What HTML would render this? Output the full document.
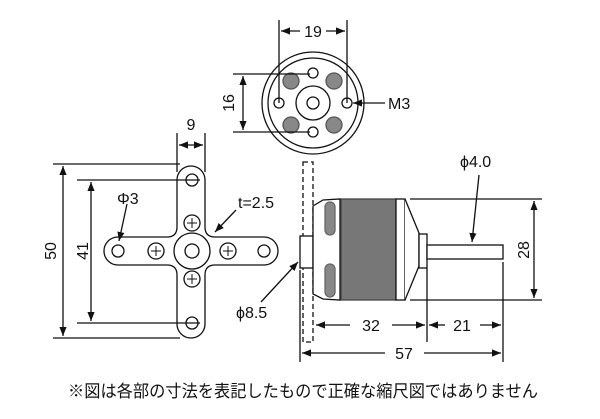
<!DOCTYPE html>
<html><head><meta charset="utf-8"><style>
html,body{margin:0;padding:0;background:#fff;}
svg{display:block;}
text{font-family:"Liberation Sans","Noto Sans CJK JP",sans-serif;fill:#111;}
</style></head><body>
<svg width="600" height="419" viewBox="0 0 600 419" xmlns="http://www.w3.org/2000/svg">
<defs>
<marker id="a" viewBox="0 0 10 10" refX="10" refY="5" markerWidth="9" markerHeight="9" orient="auto-start-reverse" markerUnits="userSpaceOnUse"><path d="M0,1 L10,5 L0,9 Z" fill="#111"/></marker>
</defs>
<g stroke="#111" stroke-width="1.3" fill="none">
<!-- top view -->
<circle cx="313" cy="103" r="51"/>
<circle cx="313" cy="103" r="45"/>
<circle cx="313" cy="103" r="17"/>
<circle cx="313" cy="103" r="6"/>
<circle cx="313" cy="73" r="5"/><circle cx="313" cy="132" r="5"/>
<circle cx="279" cy="103" r="5"/><circle cx="347" cy="103" r="5"/>
<g fill="#888" stroke="#555"><circle cx="291" cy="81" r="8"/><circle cx="334" cy="81" r="8"/><circle cx="291" cy="125" r="8"/><circle cx="334" cy="125" r="8"/></g>
<line x1="279" y1="20" x2="279" y2="103"/><line x1="347" y1="20" x2="347" y2="103"/>
<line x1="281" y1="31" x2="300" y2="31" marker-start="url(#a)"/><line x1="326" y1="31" x2="345" y2="31" marker-end="url(#a)"/>
<line x1="233" y1="74" x2="310" y2="74"/><line x1="233" y1="132" x2="310" y2="132"/>
<line x1="243" y1="76" x2="243" y2="130" marker-start="url(#a)" marker-end="url(#a)"/>
<line x1="385" y1="103" x2="353" y2="103" marker-end="url(#a)"/>
<!-- cross -->
<path d="M177,180 A14,14 0 0 1 205,180 L205,227 Q205,237 215,237 L264,237 A14,14 0 0 1 264,265 L215,265 Q205,265 205,275 L205,324 A14,14 0 0 1 177,324 L177,275 Q177,265 167,265 L118,265 A14,14 0 0 1 118,237 L167,237 Q177,237 177,227 Z"/>
<circle cx="192" cy="180" r="6"/><circle cx="192" cy="323" r="6"/><circle cx="118" cy="251" r="6"/><circle cx="264" cy="251" r="6"/>
<circle cx="192" cy="251" r="18"/><circle cx="192" cy="251" r="7"/>
<g><circle cx="192" cy="223" r="8"/><circle cx="192" cy="279" r="8"/><circle cx="156" cy="251" r="8"/><circle cx="228" cy="251" r="8"/></g>
<g stroke-width="1"><path d="M187,223h10M192,218v10M187,279h10M192,274v10M151,251h10M156,246v10M223,251h10M228,246v10"/></g>
<line x1="177" y1="133" x2="177" y2="172"/><line x1="205" y1="133" x2="205" y2="172"/>
<line x1="179" y1="145" x2="203" y2="145" marker-start="url(#a)" marker-end="url(#a)"/>
<line x1="53" y1="164" x2="180" y2="164"/><line x1="53" y1="338" x2="180" y2="338"/>
<line x1="63" y1="166" x2="63" y2="336" marker-start="url(#a)" marker-end="url(#a)"/>
<line x1="77" y1="180" x2="200" y2="180"/><line x1="77" y1="323" x2="200" y2="323"/>
<line x1="91" y1="182" x2="91" y2="321" marker-start="url(#a)" marker-end="url(#a)"/>
<line x1="127" y1="204" x2="119" y2="241" marker-end="url(#a)"/>
<line x1="236" y1="210" x2="215" y2="232" marker-end="url(#a)"/>
<line x1="261" y1="302" x2="298" y2="262" marker-end="url(#a)"/>
<!-- side view -->
<rect x="303" y="162" width="10" height="180" stroke-dasharray="5,3"/>
<rect x="300" y="236" width="13" height="32" fill="#fff"/>
<path d="M313,206 L323,200 L340,199 L340,300 L323,299 L313,294 Z" fill="#fff"/>
<rect x="325" y="202" width="10" height="33" rx="5" fill="#888" stroke="#666"/>
<rect x="325" y="264" width="10" height="33" rx="5" fill="#888" stroke="#666"/>
<rect x="341" y="199" width="55" height="101" fill="#777" stroke="#444"/>
<rect x="396" y="199" width="9" height="101" fill="#fff"/>
<path d="M405,199 L419,233 L419,266 L405,300" fill="#fff"/>
<rect x="419" y="234" width="8" height="34" fill="#fff"/>
<rect x="427" y="245" width="76" height="14" fill="#fff"/>
<line x1="410" y1="199" x2="542" y2="199"/><line x1="410" y1="300" x2="542" y2="300"/>
<line x1="534" y1="201" x2="534" y2="298" marker-start="url(#a)" marker-end="url(#a)"/>
<line x1="479" y1="175" x2="472" y2="242" marker-end="url(#a)"/>
<line x1="427" y1="268" x2="427" y2="342"/><line x1="503" y1="262" x2="503" y2="362"/><line x1="300" y1="270" x2="300" y2="362"/>
<line x1="316" y1="325" x2="350" y2="325" marker-start="url(#a)"/><line x1="392" y1="325" x2="425" y2="325" marker-end="url(#a)"/>
<line x1="429" y1="325" x2="445" y2="325" marker-start="url(#a)"/><line x1="480" y1="325" x2="501" y2="325" marker-end="url(#a)"/>
<line x1="302" y1="353" x2="385" y2="353" marker-start="url(#a)"/><line x1="424" y1="353" x2="501" y2="353" marker-end="url(#a)"/>
</g>
<g font-size="16">
<text x="313" y="37" text-anchor="middle">19</text>
<text transform="translate(234,103) rotate(-90)" text-anchor="middle">16</text>
<text x="388" y="109">M3</text>
<text x="191" y="130" text-anchor="middle">9</text>
<text transform="translate(56,251) rotate(-90)" text-anchor="middle">50</text>
<text transform="translate(88,251) rotate(-90)" text-anchor="middle">41</text>
<text x="117" y="204">Φ3</text>
<text x="238" y="208">t=2.5</text>
<text x="236" y="318">ϕ8.5</text>
<text x="460" y="167">ϕ4.0</text>
<text transform="translate(529,250) rotate(-90)" text-anchor="middle">28</text>
<text x="371" y="331" text-anchor="middle">32</text>
<text x="462" y="331" text-anchor="middle">21</text>
<text x="404" y="359" text-anchor="middle">57</text>
</g>
<text x="68" y="397" font-size="17" textLength="470" lengthAdjust="spacingAndGlyphs">※図は各部の寸法を表記したもので正確な縮尺図ではありません</text>
</svg>
</body></html>
